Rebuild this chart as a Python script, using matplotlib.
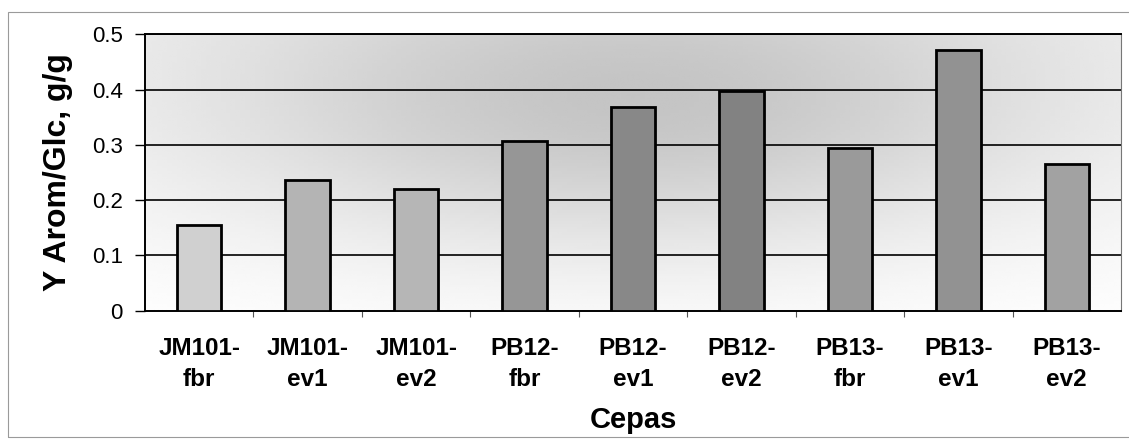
import numpy as np
import matplotlib
matplotlib.use("Agg")
import matplotlib.pyplot as plt
from matplotlib.patches import Rectangle

plt.rcParams["font.family"] = ["Liberation Sans", "DejaVu Sans"]

# --- data ---
STRAINS = ["JM101-\nfbr", "JM101-\nev1", "JM101-\nev2",
           "PB12-\nfbr", "PB12-\nev1", "PB12-\nev2",
           "PB13-\nfbr", "PB13-\nev1", "PB13-\nev2"]
YIELD = [0.155, 0.236, 0.221, 0.307, 0.369, 0.397, 0.295, 0.471, 0.265]
Y_TICKS = [0, 0.1, 0.2, 0.3, 0.4, 0.5]
Y_TICK_LABELS = ["0", "0.1", "0.2", "0.3", "0.4", "0.5"]

# grey shades of the scanned bars
BAR_GREYS = ["#d0d0d0", "#b4b4b4", "#b6b6b6", "#969696", "#888888",
             "#828282", "#9a9a9a", "#929292", "#a2a2a2"]

W, H = 1129, 440
fig = plt.figure(figsize=(W / 100, H / 100), dpi=100)
fig.patch.set_facecolor("white")

# faint outer frame of the scanned figure
fig.patches.append(Rectangle((8 / W, 3 / H), 1.2, 1 - 15 / H, transform=fig.transFigure,
                             fill=False, edgecolor="#9a9a9a", linewidth=0.8))

ax = fig.add_axes([145 / W, 1 - 310.7 / H, (1121 - 145) / W, (310.7 - 34.3) / H])

# soft grey background wash like the scan
gx, gy = np.meshgrid(np.linspace(0, 1, 200), np.linspace(0, 1, 100))
wash = 1 - 0.20 * np.exp(-((gx - 0.5) ** 2 / 0.2 + (gy - 0.75) ** 2 / 0.3))
wash = np.clip(wash - 0.04 * gy, 0, 1)
ax.imshow(wash, cmap="gray", vmin=0, vmax=1, origin="lower", aspect="auto",
          extent=(-0.5, 8.5, 0, 0.5), zorder=0, interpolation="bilinear")

x = np.arange(len(STRAINS))
ax.bar(x, YIELD, width=0.41, color=BAR_GREYS, edgecolor="black", linewidth=2.0, zorder=3)

ax.set_xlim(-0.5, len(STRAINS) - 0.5)
ax.set_ylim(0, 0.5)
ax.set_yticks(Y_TICKS)
ax.set_yticklabels(Y_TICK_LABELS, fontsize=16)
for yv in Y_TICKS[1:]:
    ax.axhline(yv, color="black", linewidth=1.2, zorder=1)

# tick marks sit between categories, labels under the bars
ax.set_xticks(np.arange(0.5, len(STRAINS) - 1, 1.0))
ax.set_xticklabels([])
ax.set_xticks(x, minor=True)
ax.set_xticklabels(STRAINS, minor=True, fontsize=17.5, fontweight="bold", linespacing=1.45)
ax.tick_params(axis="x", which="major", length=4, width=0.8, color="#555555", direction="out")
ax.tick_params(axis="x", which="minor", length=0, pad=19)
ax.tick_params(axis="y", length=7, width=1.0, pad=9)

for side in ["left", "bottom", "top"]:
    ax.spines[side].set_linewidth(1.4)
ax.spines["right"].set_color("#777777")
ax.spines["right"].set_linewidth(0.8)

fig.text(58 / W, 1 - 172 / H, "Y Arom/Glc, g/g", rotation=90, ha="center", va="center",
         fontsize=23, fontweight="bold")
fig.text(633 / W, 1 - 428 / H, "Cepas", ha="center", va="baseline",
         fontsize=21, fontweight="bold")

fig.savefig("out.png", dpi=100)
